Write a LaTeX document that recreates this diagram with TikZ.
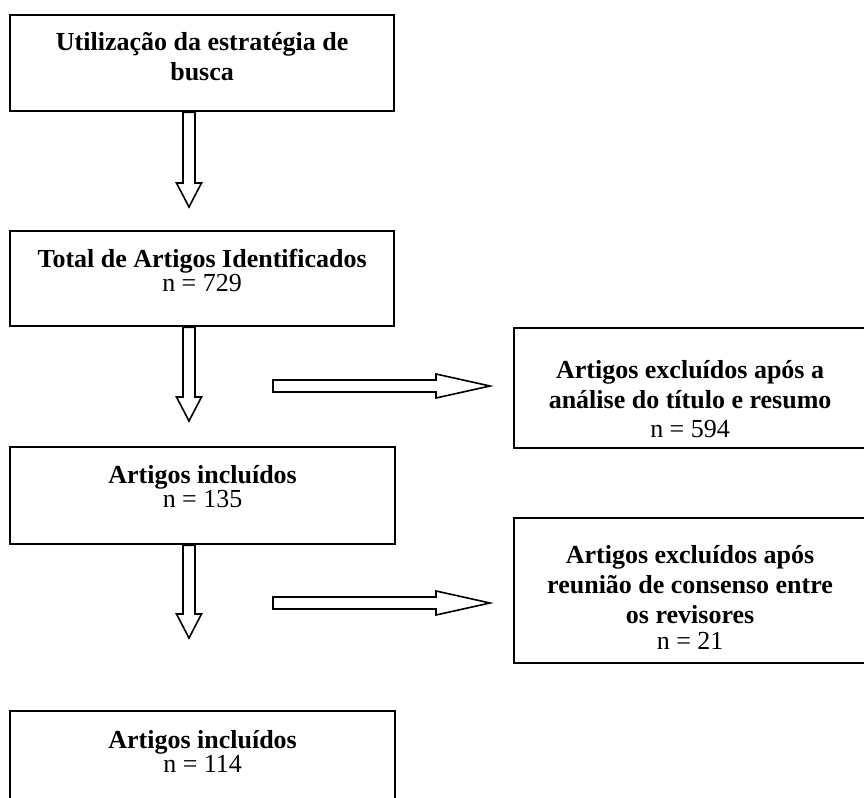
\documentclass[tikz,border=0pt]{standalone}
\usepackage{fontspec}
\setmainfont{Liberation Serif}
\usetikzlibrary{positioning}

\begin{document}
\begin{tikzpicture}[x=0.5pt,y=-0.5pt,
  box/.style={draw,line width=1.1pt,anchor=north west,inner sep=0pt},
  boxtext/.style={anchor=north,align=center,inner sep=0pt,font=\fontsize{13}{15}\selectfont},
  downblock/.style={line width=0.8pt,to path={([xshift=-3pt]\tikztostart)
      -- ([xshift=-3pt,yshift=12pt]\tikztotarget) -- ([xshift=-6.25pt,yshift=12pt]\tikztotarget)
      -- (\tikztotarget)
      -- ([xshift=6.25pt,yshift=12pt]\tikztotarget) -- ([xshift=3pt,yshift=12pt]\tikztotarget)
      -- ([xshift=3pt]\tikztostart) -- cycle}},
  rightblock/.style={line width=0.8pt,to path={([yshift=3pt]\tikztostart)
      -- ([xshift=-27pt,yshift=3pt]\tikztotarget) -- ([xshift=-27pt,yshift=6pt]\tikztotarget)
      -- (\tikztotarget)
      -- ([xshift=-27pt,yshift=-6pt]\tikztotarget) -- ([xshift=-27pt,yshift=-3pt]\tikztotarget)
      -- ([yshift=-3pt]\tikztostart) -- cycle}}]
  \useasboundingbox (0,0) rectangle (864,798);

  % left column
  \node[box,minimum width=192pt,minimum height=48pt] (busca) at (9,14) {};
  \node[boxtext,below=9pt of busca.north] (buscatxt)
     {\textbf{Utilização da estratégia de}\\\textbf{busca}};
  \node[box,minimum width=192pt,minimum height=47.5pt] (total) at (9,230) {};
  \node[boxtext,below=9.5pt of total.north] (totaltxt)
     {\textbf{Total de Artigos Identificados}\\[-3pt]n = 729};
  \node[box,minimum width=192.5pt,minimum height=48.5pt] (incl1) at (9,446) {};
  \node[boxtext,below=9.5pt of incl1.north] (incl1txt)
     {\textbf{Artigos incluídos}\\[-3pt]n = 135};
  \node[box,minimum width=192.5pt,minimum height=48pt] (incl2) at (9,710) {};
  \node[boxtext,below=10pt of incl2.north] (incl2txt)
     {\textbf{Artigos incluídos}\\[-3pt]n = 114};

  % right column (runs past the right margin)
  \node[box,minimum width=184pt,minimum height=60pt] (excl1) at (513,327) {};
  \node[boxtext,xshift=-4pt,below=16.5pt of excl1.north] (excl1txt)
     {\textbf{Artigos excluídos após a}\\\textbf{análise do título e resumo}\\[-0.5pt]n = 594};
  \node[box,minimum width=184pt,minimum height=72.5pt] (excl2) at (513,517) {};
  \node[boxtext,xshift=-4pt,below=14pt of excl2.north] (excl2txt)
     {\textbf{Artigos excluídos após}\\\textbf{reunião de consenso entre}\\\textbf{os revisores}\\[-2pt]n = 21};

  % block arrows
  \coordinate (tip1) at (189,207);
  \coordinate (tip2) at (189,421);
  \coordinate (tip3) at (189,638);
  \coordinate (from4) at (273,386);
  \coordinate (tip4) at (490,386);
  \coordinate (from5) at (273,603);
  \coordinate (tip5) at (490,603);
  \draw[downblock] (busca.south -| tip1) to (tip1);
  \draw[downblock] (total.south -| tip2) to (tip2);
  \draw[downblock] (incl1.south -| tip3) to (tip3);
  \draw[rightblock] (from4) to (tip4);
  \draw[rightblock] (from5) to (tip5);
\end{tikzpicture}
\end{document}
